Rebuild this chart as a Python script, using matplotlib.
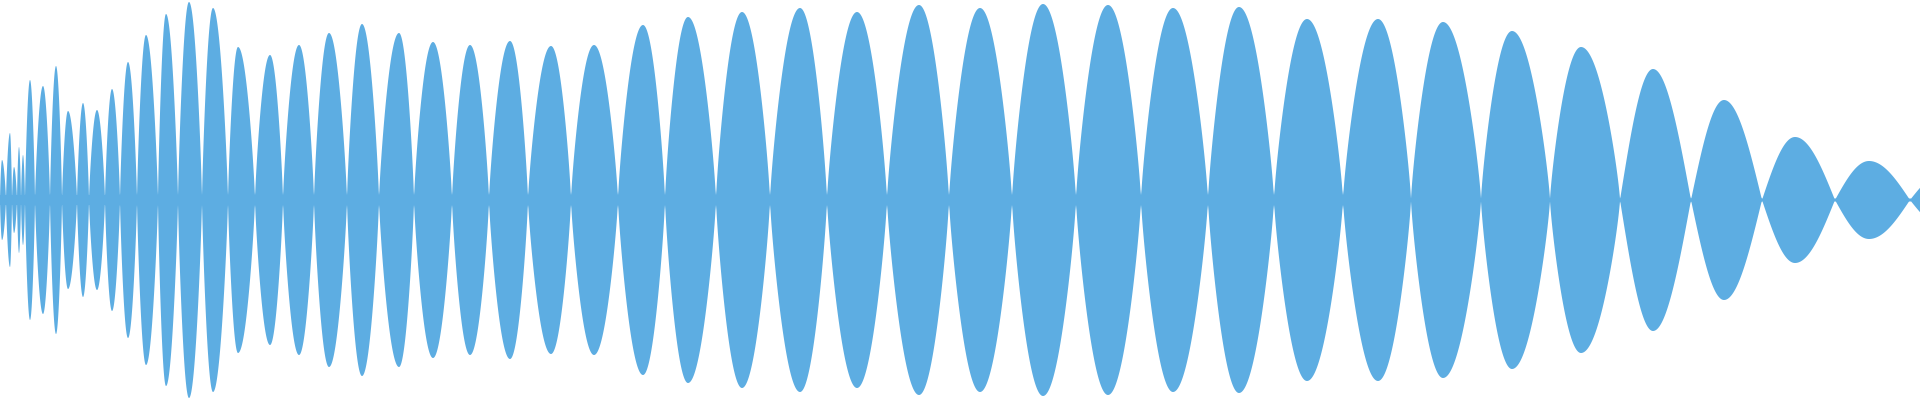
import numpy as np
import matplotlib
matplotlib.use("Agg")
import matplotlib.pyplot as plt

# lobe boundaries (sample index), peak positions and peak amplitudes
nodes = [0, 6, 12, 17, 21, 25, 35, 50, 62, 77, 89, 105, 120, 137, 158, 178, 202, 228,
         255, 283, 314, 347, 379, 414, 452, 489, 528, 571, 618, 665, 716, 770, 827, 887,
         949, 1012, 1076, 1141, 1208, 1274, 1343, 1411, 1481, 1550, 1620, 1691, 1762,
         1835, 1910, 1985]
peak_pos = [2, 10, 14, 19, 23, 30, 43, 56, 68, 83, 97, 112, 128, 146, 166, 189, 213,
            238, 270, 299, 329, 362, 399, 433, 470, 510, 551, 594, 643, 688, 742, 800,
            857, 919, 980, 1043, 1108, 1173, 1239, 1307, 1378, 1443, 1512, 1581, 1653,
            1724, 1795, 1869, 1945]
peak_amp = [40, 67, 33, 53, 45, 120, 114, 134, 89, 97, 90, 111, 138, 165, 186, 198, 192,
            153, 145, 155, 167, 176, 167, 158, 155, 159, 154, 155, 175, 183, 188, 192,
            188, 195, 192, 196, 195, 192, 193, 181, 181, 178, 169, 153, 131, 100, 63, 39, 28]

xs, ys = [], []
for i in range(len(peak_amp)):
    a, p, b, h = nodes[i], peak_pos[i], nodes[i + 1], peak_amp[i]
    k = 0.8 if a < 1600 else 1.0
    t1 = np.linspace(a, p, 60, endpoint=False)
    t2 = np.linspace(p, b, 60, endpoint=False)
    xs += list(t1) + list(t2)
    ys += list(h * np.sin(np.pi / 2 * (t1 - a) / (p - a)) ** k) + \
          list(h * np.cos(np.pi / 2 * (t2 - p) / (b - p)) ** k)
xs = np.array(xs)
ys = np.maximum(np.array(ys), np.where(xs < 1400, 5, 1.5))

fig = plt.figure(figsize=(19.2, 4), dpi=100)
ax = fig.add_axes([0, 0, 1, 1])
ax.fill_between(xs, -ys, ys, color="#5dade2", linewidth=0)
ax.set_xlim(0, 1920)
ax.set_ylim(-200, 200)
ax.axis("off")
fig.savefig("out.png", dpi=100)
